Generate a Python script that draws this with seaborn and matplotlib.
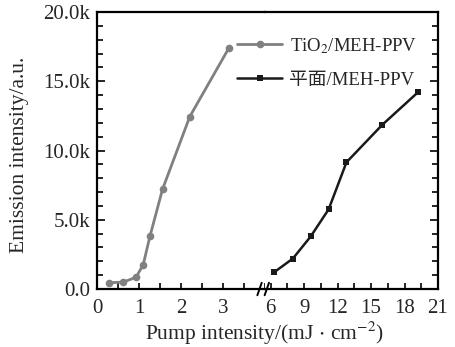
import matplotlib
matplotlib.use("Agg")
import matplotlib.pyplot as plt
import seaborn as sns
import pandas as pd
from matplotlib.ticker import MultipleLocator, FuncFormatter

# ---- data ----
tio2_x = [0.29, 0.63, 0.93, 1.10, 1.26, 1.56, 2.21, 3.14]
tio2_y = [450, 500, 850, 1750, 3800, 7200, 12450, 17400]
flat_x = [6.3, 8.0, 9.6, 11.2, 12.8, 16.0, 19.2]
flat_y = [1200, 2200, 3800, 5750, 9150, 11850, 14200]
series_names = ["TiO$_2$/MEH-PPV", "平面/MEH-PPV"]
left_xticks = [0, 1, 2, 3]
right_xticks = [6, 9, 12, 15, 18, 21]
yticks = [0, 5000, 10000, 15000, 20000]
xlabel = "Pump intensity/(mJ$\\,\\cdot\\,$cm$^{-2}$)"
ylabel = "Emission intensity/a.u."

sns.set_style("white")
plt.rcParams['font.family'] = ['Liberation Serif', 'Noto Sans CJK SC']
plt.rcParams['mathtext.fontset'] = 'stix'
plt.rcParams['font.size'] = 15

W, H = 455, 347
fig = plt.figure(figsize=(W / 100, H / 100), dpi=100)
x0, x_break, x1 = 97, 265, 438
y_bot, y_top = 289, 12
axL = fig.add_axes([x0 / W, 1 - y_bot / H, (x_break - x0) / W, (y_bot - y_top) / H])
axR = fig.add_axes([x_break / W, 1 - y_bot / H, (x1 - x_break) / W, (y_bot - y_top) / H], sharey=axL)

df1 = pd.DataFrame({"x": tio2_x, "y": tio2_y})
df2 = pd.DataFrame({"x": flat_x, "y": flat_y})
grey = "#808080"
dark = "#1a1a1a"
sns.lineplot(data=df1, x="x", y="y", ax=axL, color=grey, marker="o", markersize=5.5,
             markeredgewidth=0, linewidth=2, legend=False)
sns.lineplot(data=df2, x="x", y="y", ax=axR, color=dark, marker="s", markersize=5,
             markeredgewidth=0, linewidth=1.8, legend=False)

axL.set_xlim(0, 4.0)
axR.set_xlim(5.5, 21)
axL.set_ylim(0, 20000)

for ax in (axL, axR):
    for s in ax.spines.values():
        s.set_linewidth(1.6)
        s.set_color("black")
    ax.set_xlabel("")
    ax.set_ylabel("")
axL.spines["right"].set_visible(False)
axR.spines["left"].set_visible(False)

axL.set_xticks(left_xticks)
axL.xaxis.set_minor_locator(MultipleLocator(0.5))
axR.set_xticks(right_xticks)
axR.xaxis.set_minor_locator(MultipleLocator(1.5))
axL.set_yticks(yticks)
axL.yaxis.set_minor_locator(MultipleLocator(1000))
axL.yaxis.set_major_formatter(FuncFormatter(lambda v, p: "0.0" if v == 0 else f"{v/1000:.1f}k"))

axL.tick_params(axis="both", which="both", direction="in", color="black", width=1.2)
axL.tick_params(axis="y", which="major", length=6, left=True, right=False)
axL.tick_params(axis="y", which="minor", length=4, left=True, right=False)
axL.tick_params(axis="x", which="both", length=4, bottom=True, top=False)
axR.tick_params(axis="both", which="both", direction="in", color="black", width=1.2)
axR.tick_params(axis="y", which="major", length=6, left=False, right=True, labelleft=False)
axR.tick_params(axis="y", which="minor", length=4, left=False, right=True, labelleft=False)
axR.tick_params(axis="x", which="both", length=4, bottom=True, top=False)
for ax in (axL, axR):
    ax.tick_params(axis="x", which="major", labelsize=15, pad=7)
    ax.tick_params(axis="y", which="major", labelsize=15, pad=5)

# break marks
d = 0.012
for dx in (-0.012, 0.004):
    fig.add_artist(plt.Line2D([x_break / W + dx - d * 0.4, x_break / W + dx + d * 0.4],
                              [1 - y_bot / H - 0.018, 1 - y_bot / H + 0.018],
                              color="black", lw=1.4, transform=fig.transFigure))

fig.text(265 / W, 1 - 333 / H, xlabel, ha="center", va="center", fontsize=15.5)
fig.text(20 / W, 1 - 155 / H, ylabel, rotation=90, ha="center", va="center", fontsize=15.5)

handles = [axL.lines[0], axR.lines[0]]
fig.legend(handles, series_names, loc="upper left", bbox_to_anchor=(237 / W, 1 - 36 / H),
           frameon=False, handlelength=2.4, handletextpad=0.4, labelspacing=0.85,
           borderpad=0, borderaxespad=0, fontsize=13.5)

fig.savefig("out.png", dpi=100)
